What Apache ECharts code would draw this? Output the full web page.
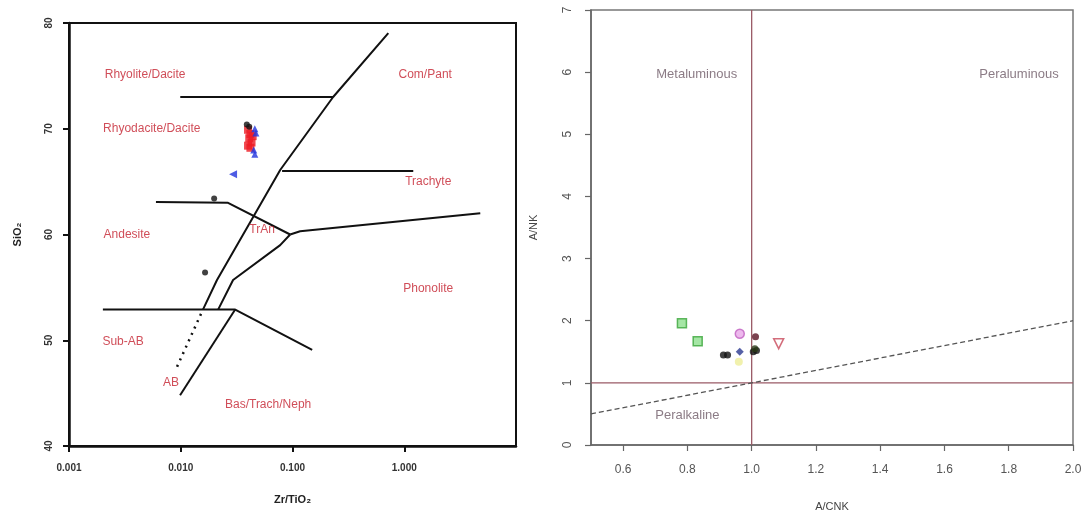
<!DOCTYPE html>
<html>
<head>
<meta charset="utf-8">
<script src="https://cdn.jsdelivr.net/npm/echarts@6/dist/echarts.min.js"></script>
<style>html,body{margin:0;padding:0;background:#fff;}#c{width:1085px;height:518px;}</style>
</head>
<body>
<div id="c"></div>
<script>
// ---------- Left panel: SiO2 vs Zr/TiO2 (Winchester & Floyd) ----------
const wfXTicks = [0.001, 0.01, 0.1, 1];
const wfYTicks = [40, 50, 60, 70, 80];
const bRhyolite = [[0.0099, 73.0], [0.231, 73.0]];
const bComPant = [[0.0158, 52.9], [0.0211, 55.7], [0.0776, 66.1], [0.231, 73.0], [0.72, 79.05]];
const bDotted = [[0.00927, 47.5], [0.0158, 52.9]];
const bTrachyte = [[0.0807, 66.0], [1.204, 66.0]];
const bAndesite = [[0.0060, 63.07], [0.0265, 63.0], [0.0953, 60.0]];
const bPhonolite = [[0.0953, 60.0], [0.117, 60.3], [4.79, 62.0]];
const bPhonoLower = [[0.0216, 52.9], [0.0294, 55.7], [0.0776, 59.0], [0.0953, 60.0]];
const bSubAB = [[0.00201, 52.9], [0.0307, 52.9], [0.150, 49.1]];
const bAB = [[0.00986, 44.8], [0.0307, 52.9]];
const wfRegionNames = ['Rhyolite/Dacite', 'Rhyodacite/Dacite', 'Com/Pant', 'Trachyte', 'Andesite', 'TrAn', 'Phonolite', 'Sub-AB', 'AB', 'Bas/Trach/Neph'];
const wfRegionPos = [[0.0048, 75.1], [0.0055, 70.0], [1.54, 75.1], [1.64, 65.0], [0.0033, 60.0], [0.0535, 60.5], [1.64, 54.9], [0.00305, 49.9], [0.0082, 46.0], [0.0605, 43.9]];
const wfRed = [[0.040, 69.9], [0.042, 69.5], [0.041, 69.1], [0.043, 68.7], [0.040, 68.4], [0.044, 69.3], [0.042, 68.2]];
const wfBlack = [[0.039, 70.4], [0.041, 70.2], [0.0199, 63.4], [0.0165, 56.4]];
const wfBlue = [[0.046, 70.0], [0.047, 69.6], [0.045, 68.0], [0.046, 67.6]];
const wfBlueTri = [[0.0294, 65.7]];

// ---------- Right panel: A/NK vs A/CNK (Shand) ----------
const shXTicks = [0.6, 0.8, 1.0, 1.2, 1.4, 1.6, 1.8, 2.0];
const shVLine = [[1.0, 0], [1.0, 7]];
const shHLine = [[0.5, 1.0], [2.0, 1.0]];
const shDashed = [[0.5, 0.5], [2.0, 2.0]];
const shRegionNames = ['Metaluminous', 'Peraluminous', 'Peralkaline'];
const shRegionPos = [[0.829, 5.96], [1.832, 5.96], [0.80, 0.47]];
const shGreen = [[0.783, 1.96], [0.832, 1.67]];
const shPink = [[0.963, 1.79]];
const shDarkRed = [[1.012, 1.74]];
const shRedTri = [[1.084, 1.63]];
const shBlue = [[0.963, 1.50]];
const shBlack = [[0.912, 1.45], [0.925, 1.45], [1.005, 1.50], [1.015, 1.52]];
const shYellow = [[0.96, 1.34]];
const shDarkGreen = [[1.01, 1.55]];

function line(data, xi, extra) {
  return Object.assign({
    type: 'line', xAxisIndex: xi, yAxisIndex: xi, data: data, symbol: 'none', silent: true,
    lineStyle: { color: '#111', width: 2 }, z: 3
  }, extra || {});
}
function pts(data, xi, sym, size, color, extra) {
  return Object.assign({
    type: 'scatter', xAxisIndex: xi, yAxisIndex: xi, data: data, symbol: sym, symbolSize: size,
    itemStyle: { color: color }, z: 5, silent: true
  }, extra || {});
}
function labels(names, pos, xi, color, size) {
  return {
    type: 'scatter', xAxisIndex: xi, yAxisIndex: xi, symbolSize: 0, silent: true, z: 4,
    data: names.map((n, i) => ({ value: pos[i], name: n })),
    label: { show: true, position: 'inside', formatter: p => p.name, color: color, fontSize: size, fontFamily: 'Liberation Sans, Arial, sans-serif' }
  };
}

const chart = echarts.init(document.getElementById('c'), null, { renderer: 'canvas' });
chart.setOption({
  animation: false,
  backgroundColor: '#fff',
  grid: [
    { left: 69, top: 23, width: 447, height: 423, show: true, borderColor: '#111', borderWidth: 2, backgroundColor: 'transparent' },
    { left: 591, top: 10, width: 482, height: 435, show: true, borderColor: '#777', borderWidth: 1.5, backgroundColor: 'transparent' }
  ],
  xAxis: [
    {
      gridIndex: 0, type: 'log', logBase: 10, min: 0.001, max: 10,
      name: 'Zr/TiO₂', nameLocation: 'middle', nameGap: 48,
      nameTextStyle: { color: '#222', fontSize: 11, fontWeight: 'bold', fontFamily: 'Liberation Sans, Arial, sans-serif' },
      axisLine: { show: true, lineStyle: { color: '#111', width: 2.5 } },
      axisTick: { show: true, length: 6, lineStyle: { color: '#111', width: 2 }, customValues: wfXTicks },
      axisLabel: { customValues: wfXTicks, formatter: v => Number(v).toFixed(3), color: '#333', fontSize: 10, fontWeight: 'bold', margin: 17 },
      splitLine: { show: false }, minorTick: { show: false }
    },
    {
      gridIndex: 1, type: 'value', min: 0.5, max: 2.0,
      name: 'A/CNK', nameLocation: 'middle', nameGap: 56,
      nameTextStyle: { color: '#444', fontSize: 11, fontFamily: 'Liberation Sans, Arial, sans-serif' },
      axisLine: { show: true, lineStyle: { color: '#666', width: 1.5 } },
      axisTick: { show: true, length: 6, lineStyle: { color: '#666', width: 1.2 }, customValues: shXTicks },
      axisLabel: { customValues: shXTicks, formatter: v => Number(v).toFixed(1), color: '#555', fontSize: 12, margin: 19 },
      splitLine: { show: false }
    }
  ],
  yAxis: [
    {
      gridIndex: 0, type: 'value', min: 40, max: 80, interval: 10,
      name: 'SiO₂', nameLocation: 'middle', nameGap: 46, nameRotate: 90,
      nameTextStyle: { color: '#222', fontSize: 11, fontWeight: 'bold', fontFamily: 'Liberation Sans, Arial, sans-serif' },
      axisLine: { show: true, lineStyle: { color: '#111', width: 2.5 } },
      axisTick: { show: true, length: 6, lineStyle: { color: '#111', width: 2 } },
      axisLabel: { rotate: 90, color: '#333', fontSize: 10, fontWeight: 'bold', margin: 15 },
      splitLine: { show: false }
    },
    {
      gridIndex: 1, type: 'value', min: 0, max: 7, interval: 1,
      name: 'A/NK', nameLocation: 'middle', nameGap: 52, nameRotate: 90,
      nameTextStyle: { color: '#444', fontSize: 11, fontFamily: 'Liberation Sans, Arial, sans-serif' },
      axisLine: { show: true, lineStyle: { color: '#666', width: 1.5 } },
      axisTick: { show: true, length: 6, lineStyle: { color: '#666', width: 1.2 } },
      axisLabel: { rotate: 90, color: '#555', fontSize: 12, margin: 17 },
      splitLine: { show: false }
    }
  ],
  series: [
    line(bRhyolite, 0),
    line(bComPant, 0),
    line(bDotted, 0, { lineStyle: { color: '#111', width: 2.5, type: [2, 5] } }),
    line(bTrachyte, 0),
    line(bAndesite, 0),
    line(bPhonolite, 0),
    line(bPhonoLower, 0),
    line(bSubAB, 0),
    line(bAB, 0),
    labels(wfRegionNames, wfRegionPos, 0, '#c4202e', 12),
    pts(wfRed, 0, 'rect', 8, '#ee1c24'),
    pts(wfBlack, 0, 'circle', 6, '#111'),
    pts(wfBlue, 0, 'triangle', 7, '#2233dd'),
    pts(wfBlueTri, 0, 'triangle', 8, '#2233dd', { symbolRotate: 90 }),

    line(shVLine, 1, { lineStyle: { color: '#9a5a66', width: 1.3 } }),
    line(shHLine, 1, { lineStyle: { color: '#9a5a66', width: 1.3 } }),
    line(shDashed, 1, { lineStyle: { color: '#555', width: 1.3, type: [5, 3] } }),
    labels(shRegionNames, shRegionPos, 1, '#6e5a66', 13),
    pts(shGreen, 1, 'rect', 9, '#6fd46f', { itemStyle: { color: '#8fe08f', borderColor: '#3aa53a', borderWidth: 1.5 } }),
    pts(shPink, 1, 'circle', 9, '#e39be3', { itemStyle: { color: '#e8a8e8', borderColor: '#c060c0', borderWidth: 1.5 } }),
    pts(shDarkRed, 1, 'circle', 7, '#5a1424'),
    pts(shRedTri, 1, 'triangle', 10, 'transparent', { symbolRotate: 180, itemStyle: { color: 'transparent', borderColor: '#c8485a', borderWidth: 1.5 } }),
    pts(shBlue, 1, 'diamond', 8, '#2a3890'),
    pts(shBlack, 1, 'circle', 7, '#111'),
    pts(shYellow, 1, 'circle', 8, '#eeee99'),
    pts(shDarkGreen, 1, 'circle', 7, '#2a3a18')
  ]
});
</script>
</body>
</html>
